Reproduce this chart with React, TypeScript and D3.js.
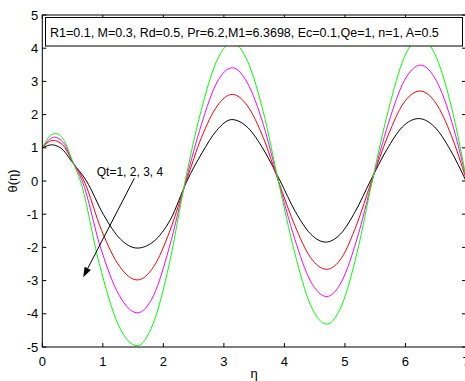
import React from "react";
import * as d3 from "d3";

const W = 465;
const H = 381;

const xTicks = [0, 1, 2, 3, 4, 5, 6, 7];
const yTicks = [-5, -4, -3, -2, -1, 0, 1, 2, 3, 4, 5];

const legendText = "R1=0.1, M=0.3, Rd=0.5, Pr=6.2,M1=6.3698, Ec=0.1,Qe=1, n=1, A=0.5";
const annotText = "Qt=1, 2, 3, 4";
const annotPos = [0.9, 0.14];
const arrowFrom = [1.52, 0.08];
const arrowTo = [0.675, -2.9];

// Qt = 1 (black)
const qt1: [number, number][] = [
  [0, 1.0], [0.08, 1.06], [0.15, 1.09], [0.3, 1.0], [0.51, 0.53], [0.73, 0],
  [1.01, -1.01], [1.29, -1.75], [1.57, -2.02], [1.84, -1.82], [2.12, -1.15], [2.39, 0],
  [2.64, 0.85], [2.88, 1.52], [3.13, 1.85], [3.4, 1.6], [3.66, 0.93], [3.93, 0],
  [4.18, -0.92], [4.43, -1.59], [4.68, -1.84], [4.93, -1.59], [5.17, -0.92], [5.42, 0],
  [5.69, 0.94], [5.95, 1.63], [6.22, 1.88], [6.48, 1.63], [6.74, 0.94], [7.0, 0.0],
];
// Qt = 2 (red)
const qt2: [number, number][] = [
  [0, 1.0], [0.1, 1.17], [0.18, 1.22], [0.33, 1.1], [0.51, 0.55], [0.69, 0],
  [0.98, -1.49], [1.28, -2.58], [1.57, -2.98], [1.84, -2.58], [2.11, -1.49], [2.38, 0],
  [2.63, 1.31], [2.89, 2.26], [3.14, 2.61], [3.39, 2.26], [3.65, 1.31], [3.9, 0],
  [4.17, -1.33], [4.43, -2.3], [4.7, -2.66], [4.95, -2.3], [5.19, -1.33], [5.44, 0],
  [5.71, 1.36], [5.97, 2.35], [6.24, 2.71], [6.5, 2.35], [6.76, 1.36], [7.0, 0.07],
];
// Qt = 3 (magenta)
const qt3: [number, number][] = [
  [0, 1.0], [0.1, 1.22], [0.2, 1.32], [0.35, 1.15], [0.51, 0.55], [0.66, 0],
  [0.96, -1.99], [1.27, -3.44], [1.57, -3.97], [1.84, -3.44], [2.1, -1.99], [2.37, 0],
  [2.63, 1.71], [2.88, 2.95], [3.14, 3.41], [3.39, 2.95], [3.65, 1.71], [3.9, 0],
  [4.17, -1.74], [4.43, -3.01], [4.7, -3.48], [4.95, -3.01], [5.2, -1.74], [5.45, 0],
  [5.72, 1.75], [5.98, 3.02], [6.25, 3.49], [6.51, 3.02], [6.77, 1.75], [7.0, 0.1],
];
// Qt = 4 (green)
const qt4: [number, number][] = [
  [0, 1.0], [0.1, 1.3], [0.22, 1.43], [0.35, 1.25], [0.51, 0.55], [0.63, 0],
  [0.94, -2.48], [1.26, -4.35], [1.57, -4.96], [1.83, -4.3], [2.1, -2.48], [2.36, 0],
  [2.62, 2.09], [2.88, 3.61], [3.14, 4.17], [3.39, 3.61], [3.65, 2.09], [3.9, 0],
  [4.17, -2.16], [4.43, -3.73], [4.7, -4.31], [4.95, -3.73], [5.2, -2.16], [5.45, 0],
  [5.72, 2.15], [5.98, 3.72], [6.25, 4.3], [6.51, 3.72], [6.77, 2.15], [7.0, 0.12],
];

const seriesList = [qt1, qt2, qt3, qt4];
const seriesColors = ["#000000", "#ff0000", "#ff00ff", "#00ff00"];

const FONT = "'Liberation Sans', Arial, sans-serif";

export default function App() {
  const left = 42.3;
  const right = 466;
  const top = 15;
  const bottom = 347;
  const x = d3.scaleLinear().domain([0, 7]).range([left, right]);
  const y = d3.scaleLinear().domain([-5, 5]).range([bottom, top]);
  const line = d3
    .line<[number, number]>()
    .x((d) => x(d[0]))
    .y((d) => y(d[1]))
    .curve(d3.curveMonotoneX);

  const tl = 4;
  const ax1 = x(arrowFrom[0]);
  const ay1 = y(arrowFrom[1]);
  const ax2 = x(arrowTo[0]);
  const ay2 = y(arrowTo[1]);
  const ang = Math.atan2(ay2 - ay1, ax2 - ax1);
  const hl = 10;
  const hw = 3.5;
  const bx = ax2 - hl * Math.cos(ang);
  const by = ay2 - hl * Math.sin(ang);
  const head = `M${ax2},${ay2} L${bx + hw * Math.sin(ang)},${by - hw * Math.cos(ang)} L${bx - hw * Math.sin(ang)},${by + hw * Math.cos(ang)} Z`;

  return (
    <svg
      width={W}
      height={H}
      style={{ position: "absolute", left: 0, top: 0, background: "#fff" }}
      fontFamily={FONT}
    >
      <rect x={0} y={0} width={W} height={H} fill="#fff" />
      {/* curves */}
      <g fill="none" strokeWidth={1}>
        {seriesList.map((s, i) => (
          <path key={i} d={line(s) || ""} stroke={seriesColors[i]} />
        ))}
      </g>
      {/* frame */}
      <rect x={left} y={top} width={right - left} height={bottom - top} fill="none" stroke="#000" strokeWidth={1} />
      {/* ticks */}
      <g stroke="#000" strokeWidth={1}>
        {xTicks.map((t) => (
          <g key={"xt" + t}>
            <line x1={x(t)} x2={x(t)} y1={bottom} y2={bottom - tl} />
            <line x1={x(t)} x2={x(t)} y1={top} y2={top + tl} />
          </g>
        ))}
        {yTicks.map((t) => (
          <g key={"yt" + t}>
            <line x1={left} x2={left + tl} y1={y(t)} y2={y(t)} />
            <line x1={right} x2={right - tl} y1={y(t)} y2={y(t)} />
          </g>
        ))}
      </g>
      {/* tick labels */}
      <g fontSize={13} fill="#000">
        {xTicks.map((t) => (
          <text key={"xl" + t} x={x(t)} y={bottom + 19} textAnchor="middle">
            {t}
          </text>
        ))}
        {yTicks.map((t) => (
          <text key={"yl" + t} x={left - 4} y={y(t) + 4.5} textAnchor="end">
            {t}
          </text>
        ))}
      </g>
      {/* axis labels */}
      <text x={x(3.5)} y={378} fontSize={13} textAnchor="middle">
        η
      </text>
      <text
        transform={`translate(17,${y(0)}) rotate(-90)`}
        fontSize={13}
        textAnchor="middle"
      >
        θ(η)
      </text>
      {/* legend box */}
      <rect x={45.5} y={17.5} width={417} height={28.5} fill="#fff" stroke="#000" strokeWidth={1} />
      <text x={50} y={37} fontSize={12.5} fill="#000">
        {legendText}
      </text>
      {/* annotation */}
      <text x={x(annotPos[0])} y={y(annotPos[1])} fontSize={12} fill="#000">
        {annotText}
      </text>
      <line x1={ax1} y1={ay1} x2={bx} y2={by} stroke="#000" strokeWidth={1} />
      <path d={head} fill="#000" />
    </svg>
  );
}
